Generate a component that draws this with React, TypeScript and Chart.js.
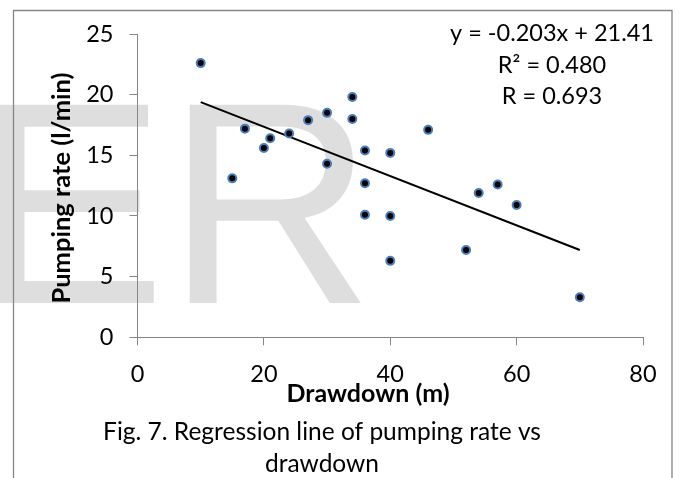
import React, { useEffect, useRef } from "react";
import { Chart, registerables } from "chart.js";

Chart.register(...registerables);

// ---- data ----
const drawdown = [10, 17, 27, 30, 24, 21, 20, 30, 15, 34, 34, 46, 36, 40, 36, 54, 57, 60, 36, 40, 52, 40, 70];
const pumpingRate = [22.6, 17.2, 17.9, 18.5, 16.8, 16.4, 15.6, 14.3, 13.1, 19.8, 18.0, 17.1, 15.4, 15.2, 12.7, 11.9, 12.6, 10.9, 10.1, 10.0, 7.2, 6.3, 3.3];
const slope = -0.203;
const intercept = 21.41;
const equationLines = ["y = -0.203x + 21.41", "R² = 0.480", "R = 0.693"];
const xTicks = [0, 20, 40, 60, 80];
const yTicks = [0, 5, 10, 15, 20, 25];
const xTitle = "Drawdown (m)";
const yTitle = "Pumping rate (l/min)";
const captionLines = ["Fig. 7. Regression line of pumping rate vs", "drawdown"];
const watermark = "ER";

const W = 679;
const H = 478;
const FONT = "Lato, 'Noto Sans', sans-serif";
const AXIS = "#868686";

const backgroundPlugin = {
  id: "bgWatermark",
  beforeDraw(chart: any) {
    const ctx = chart.ctx;
    ctx.save();
    ctx.fillStyle = "#ffffff";
    ctx.fillRect(0, 0, W, H);
    ctx.fillStyle = "#dedede";
    ctx.font = "288px 'Liberation Sans', Arial, sans-serif";
    ctx.textAlign = "left";
    ctx.textBaseline = "alphabetic";
    ctx.fillText(watermark, -26, 303);
    // outer frame
    ctx.strokeStyle = AXIS;
    ctx.lineWidth = 1.3;
    ctx.beginPath();
    ctx.moveTo(13.5, H + 2);
    ctx.lineTo(13.5, 10.5);
    ctx.lineTo(672, 10.5);
    ctx.lineTo(672, H + 2);
    ctx.stroke();
    ctx.restore();
  },
};

const textPlugin = {
  id: "texts",
  afterDraw(chart: any) {
    const ctx = chart.ctx;
    ctx.save();
    ctx.fillStyle = "#000000";
    ctx.textBaseline = "alphabetic";
    ctx.textAlign = "center";
    // equation
    ctx.font = `23.5px ${FONT}`;
    const eqBase = [41, 73, 104];
    equationLines.forEach((t, i) => ctx.fillText(t, 552, eqBase[i]));
    // x title
    ctx.font = `bold 25px ${FONT}`;
    ctx.fillText(xTitle, 368, 402);
    // y title
    ctx.save();
    ctx.translate(70, 188);
    ctx.rotate(-Math.PI / 2);
    ctx.font = `bold 25.5px ${FONT}`;
    ctx.fillText(yTitle, 0, 0);
    ctx.restore();
    // caption
    ctx.font = `24.5px ${FONT}`;
    const capBase = [440, 472];
    captionLines.forEach((t, i) => ctx.fillText(t, 322, capBase[i]));
    ctx.restore();
  },
};

export default function App() {
  const ref = useRef<HTMLCanvasElement | null>(null);

  useEffect(() => {
    if (!ref.current) return;
    const points = drawdown.map((x, i) => ({ x, y: pumpingRate[i] }));
    const xMin = Math.min(...drawdown);
    const xMax = Math.max(...drawdown);
    const trend = [xMin, xMax].map((x) => ({ x, y: slope * x + intercept }));

    const chart = new Chart(ref.current, {
      type: "scatter",
      data: {
        datasets: [
          {
            type: "line",
            data: trend,
            borderColor: "#000000",
            borderWidth: 2,
            pointRadius: 0,
            fill: false,
            order: 1,
          } as any,
          {
            data: points,
            backgroundColor: "#000000",
            borderColor: "#4a7ebb",
            borderWidth: 2,
            pointRadius: 4,
            order: 0,
          },
        ],
      },
      options: {
        responsive: false,
        animation: false,
        layout: { padding: { left: 0, top: 34, right: W - 643, bottom: 0 } },
        plugins: { legend: { display: false }, tooltip: { enabled: false } },
        scales: {
          x: {
            type: "linear",
            min: 0,
            max: 80,
            afterBuildTicks: (s: any) => {
              s.ticks = xTicks.map((v) => ({ value: v }));
            },
            afterFit: (s: any) => {
              s.height = H - 337.3;
            },
            ticks: { color: "#000000", font: { family: FONT, size: 23.5 }, padding: 15, maxRotation: 0 },
            grid: { drawOnChartArea: false, drawTicks: true, tickLength: 8, color: AXIS },
            border: { color: AXIS, width: 1 },
          },
          y: {
            type: "linear",
            min: 0,
            max: 25,
            afterBuildTicks: (s: any) => {
              s.ticks = yTicks.map((v) => ({ value: v }));
            },
            afterFit: (s: any) => {
              s.width = 137.5;
            },
            ticks: { color: "#000000", font: { family: FONT, size: 23.5 }, padding: 16, },
            grid: { drawOnChartArea: false, drawTicks: true, tickLength: 8, color: AXIS },
            border: { color: AXIS, width: 1 },
          },
        },
      },
      plugins: [backgroundPlugin, textPlugin],
    });
    return () => chart.destroy();
  }, []);

  return (
    <div style={{ position: "absolute", left: 0, top: 0, width: W, height: H }}>
      <canvas ref={ref} width={W} height={H} style={{ display: "block", width: W, height: H }} />
    </div>
  );
}
